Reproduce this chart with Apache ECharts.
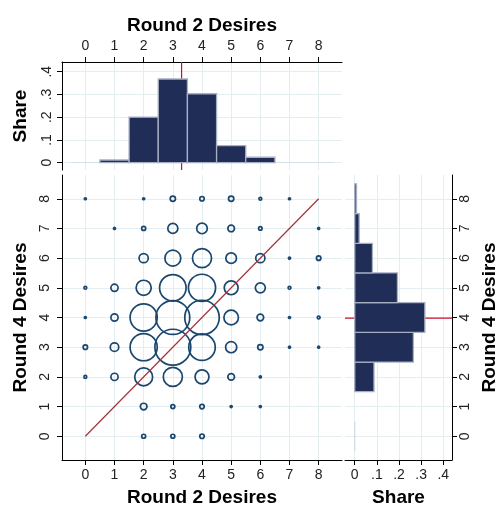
<!DOCTYPE html>
<html>
<head>
<meta charset="utf-8">
<script src="https://cdn.jsdelivr.net/npm/echarts@6/dist/echarts.min.js"></script>
<style>
  html, body { margin: 0; padding: 0; background: #ffffff; }
  #chart { width: 500px; height: 512px; }
</style>
</head>
<body>
<div id="chart"></div>
<script>
// Desire levels (0..8) shared by both rounds
const desireLevels = [0, 1, 2, 3, 4, 5, 6, 7, 8];
const shareTicks = [0, 0.1, 0.2, 0.3, 0.4];

// Marginal distributions (share of respondents at each level)
const round2Share = [0.001, 0.012, 0.200, 0.368, 0.303, 0.075, 0.024, 0.001, 0.001];
const round4Share = [0.002, 0.000, 0.087, 0.265, 0.317, 0.193, 0.080, 0.020, 0.008];

// Means of each round
const meanRound2 = 3.30;
const meanRound4 = 3.98;

// Respondent counts per cell: row = round 4 desire, column = round 2 desire
const jointCounts = [
  [0, 0,   4,   4,   5,  0,  0, 0, 0],   // round 4 = 0
  [0, 0,  11,   4,   5,  1,  1, 0, 0],   // round 4 = 1
  [2, 13, 80,  91,  48, 11,  1, 0, 0],   // round 4 = 2
  [5, 18, 184, 322, 176, 31, 7, 1, 1],   // round 4 = 3
  [1, 13, 184, 287, 298, 53, 11, 1, 2],  // round 4 = 4
  [2, 13, 57, 176, 184, 48, 25, 2, 1],   // round 4 = 5
  [0, 0,  21,  63,  91, 28, 21, 1, 5],   // round 4 = 6
  [0, 1,   4,  25,  28, 11,  3, 0, 1],   // round 4 = 7
  [1, 0,   1,   7,   5,  7,  2, 1, 0]    // round 4 = 8
];

// ---- styling ----
const FONT = 'Liberation Sans, Arial, sans-serif';
const NAVY = '#1a476f';
const BAR_FILL = '#1f2d57';
const BAR_EDGE = '#a7afc3';
const GRID_LINE = '#e4eef0';
const MEAN_RED = '#c8102e';
const DIAG_RED = '#a3323c';

// axis extents
const LEVEL_MIN = -0.8, LEVEL_MAX = 8.8;
const SHARE_MIN_TOP = -0.032, SHARE_MAX_TOP = 0.4426;
const SHARE_MIN_RIGHT = -0.044, SHARE_MAX_RIGHT = 0.4396;

const shareLabel = v => (Math.abs(v) < 1e-9 ? '0' : '.' + Math.round(v * 10));

function axisBase(extra, labelOpts) {
  return Object.assign({
    type: 'value',
    axisLine: { show: true, onZero: false, lineStyle: { color: '#000', width: 1 } },
    axisTick: { show: true, length: 5, lineStyle: { color: '#000', width: 1 } },
    axisLabel: Object.assign({ color: '#222', fontSize: 14, fontFamily: FONT }, labelOpts),
    splitLine: { show: true, lineStyle: { color: GRID_LINE, width: 1 } },
    nameLocation: 'middle',
    nameTextStyle: { color: '#000', fontSize: 19, fontWeight: 'bold', fontFamily: FONT }
  }, extra);
}

function levelAxis(extra, labelOpts) {
  const a = axisBase(extra, labelOpts);
  a.min = LEVEL_MIN; a.max = LEVEL_MAX;
  a.axisTick.customValues = desireLevels;
  a.axisLabel.customValues = desireLevels;
  return a;
}

function shareAxis(min, max, extra, labelOpts) {
  const a = axisBase(extra, labelOpts);
  a.min = min; a.max = max;
  a.axisTick.customValues = shareTicks;
  a.axisLabel.customValues = shareTicks;
  a.axisLabel.formatter = shareLabel;
  return a;
}

// scatter points from the joint table
const scatterData = [];
jointCounts.forEach((row, yi) => {
  row.forEach((n, xi) => {
    if (n > 0) scatterData.push([desireLevels[xi], desireLevels[yi], n]);
  });
});

// bars thinner than a pixel are drawn as a bare sliver, without outline
function barStyle(thickness) {
  return thickness < 1
    ? { fill: BAR_EDGE, lineWidth: 0 }
    : { fill: BAR_FILL, stroke: BAR_EDGE, lineWidth: 1.3 };
}

// vertical histogram bar, one unit wide centred on the level
function renderVBar(params, api) {
  const x = api.value(0), v = api.value(1);
  if (!(v > 0)) return null;
  const p0 = api.coord([x - 0.5, 0]);
  const p1 = api.coord([x + 0.5, v]);
  const h = p0[1] - p1[1];
  return {
    type: 'rect',
    shape: { x: p0[0], y: p1[1], width: p1[0] - p0[0], height: h },
    style: barStyle(h)
  };
}

// horizontal histogram bar, one unit tall centred on the level
function renderHBar(params, api) {
  const v = api.value(0), y = api.value(1);
  if (!(v > 0)) return null;
  const p0 = api.coord([0, y + 0.5]);
  const p1 = api.coord([v, y - 0.5]);
  const w = p1[0] - p0[0];
  return {
    type: 'rect',
    shape: { x: p0[0], y: p0[1], width: w, height: p1[1] - p0[1] },
    style: barStyle(w)
  };
}

const chart = echarts.init(document.getElementById('chart'), null, { renderer: 'canvas' });

chart.setOption({
  backgroundColor: '#ffffff',
  animation: false,
  grid: [
    { left: 62, top: 62, width: 280, height: 108 },   // top histogram
    { left: 62, top: 175, width: 280, height: 293 },  // joint scatter
    { left: 345, top: 175, width: 110, height: 293 }  // right histogram
  ],
  xAxis: [
    levelAxis({ gridIndex: 0, position: 'top', name: 'Round 2 Desires', nameGap: 27 },
              { margin: 9 }),
    levelAxis({ gridIndex: 1, position: 'bottom', name: 'Round 2 Desires', nameGap: 28 },
              { margin: 8 }),
    shareAxis(SHARE_MIN_RIGHT, SHARE_MAX_RIGHT,
              { gridIndex: 2, position: 'bottom', name: 'Share', nameGap: 28 },
              { margin: 8 })
  ],
  yAxis: [
    shareAxis(SHARE_MIN_TOP, SHARE_MAX_TOP,
              { gridIndex: 0, position: 'left', name: 'Share', nameGap: 32, nameRotate: 90 },
              { rotate: 90, margin: 8 }),
    levelAxis({ gridIndex: 1, position: 'left', name: 'Round 4 Desires', nameGap: 26, nameRotate: 90 },
              { rotate: 90, margin: 10 }),
    levelAxis({ gridIndex: 2, position: 'right', name: 'Round 4 Desires', nameGap: 28, nameRotate: 90 },
              { rotate: 90, margin: 6 })
  ],
  series: [
    {
      type: 'line', xAxisIndex: 0, yAxisIndex: 0, z: 1,
      data: [[meanRound2, SHARE_MIN_TOP], [meanRound2, SHARE_MAX_TOP]],
      showSymbol: false, silent: true,
      lineStyle: { color: MEAN_RED, width: 1.2 }
    },
    {
      type: 'custom', xAxisIndex: 0, yAxisIndex: 0, z: 2,
      renderItem: renderVBar,
      encode: { x: 0, y: 1 },
      data: round2Share.map((v, i) => [desireLevels[i], v])
    },
    {
      type: 'scatter', xAxisIndex: 1, yAxisIndex: 1, z: 2,
      symbol: 'circle',
      symbolSize: val => 2 * Math.sqrt(val[2]),
      itemStyle: { color: 'rgba(0,0,0,0)', borderColor: NAVY, borderWidth: 1.7, opacity: 1 },
      data: scatterData
    },
    {
      type: 'line', xAxisIndex: 1, yAxisIndex: 1, z: 3,
      data: [[desireLevels[0], desireLevels[0]],
             [desireLevels[desireLevels.length - 1], desireLevels[desireLevels.length - 1]]],
      showSymbol: false, silent: true,
      lineStyle: { color: DIAG_RED, width: 1.2 }
    },
    {
      type: 'line', xAxisIndex: 2, yAxisIndex: 2, z: 1,
      data: [[SHARE_MIN_RIGHT, meanRound4], [SHARE_MAX_RIGHT, meanRound4]],
      showSymbol: false, silent: true,
      lineStyle: { color: MEAN_RED, width: 1.2 }
    },
    {
      type: 'custom', xAxisIndex: 2, yAxisIndex: 2, z: 2,
      renderItem: renderHBar,
      encode: { x: 0, y: 1 },
      data: round4Share.map((v, i) => [v, desireLevels[i]])
    }
  ]
});
</script>
</body>
</html>
